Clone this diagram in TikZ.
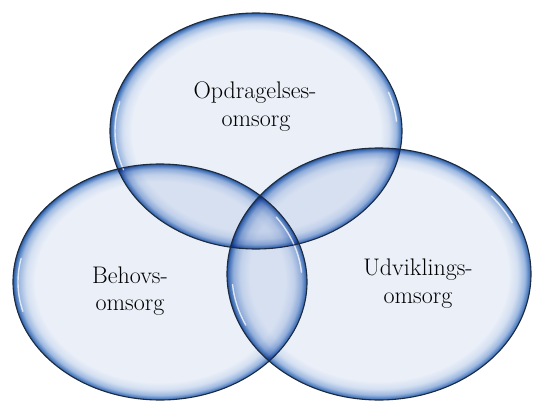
\documentclass[tikz,border=0pt]{standalone}
\usetikzlibrary{calc}
\definecolor{vlight}{HTML}{EAEFF8}
\definecolor{vsoft}{HTML}{D3DFF1}
\definecolor{vmid}{HTML}{9DB8E0}
\definecolor{vblue}{HTML}{4677BC}
\definecolor{vdark}{HTML}{2A5596}
\definecolor{vline}{HTML}{1C2B40}
\pgfdeclareradialshading{venn}{\pgfpoint{0bp}{0bp}}{%
  color(0bp)=(vlight); color(21.3bp)=(vlight); color(22.8bp)=(vsoft);
  color(24bp)=(vmid); color(24.75bp)=(vblue); color(25bp)=(vdark); color(50bp)=(vdark)}
\tikzset{
  bubble/.style={shading=venn},
  rim/.style={draw=vline, line width=1.1pt},
  gloss/.style={draw=white, line width=1.4pt, line cap=round, opacity=0.75},
  lbl/.style={font=\fontsize{24}{28}\selectfont, text=black, inner sep=0pt, anchor=base}
}
\begin{document}
\begin{tikzpicture}[x=1pt,y=-1pt]
\useasboundingbox (0,0) rectangle (533,401);
% fills
\begin{scope}[blend mode=multiply]
  \path[bubble] (256,131) ellipse [x radius=146, y radius=118];
  \path[bubble] (160,282) ellipse [x radius=147, y radius=118];
  \path[bubble] (379,274) ellipse [x radius=152, y radius=126];
\end{scope}
% gloss highlights
\draw[gloss] (256,131) ++(160:141 and 113) arc [start angle=160, end angle=195, x radius=141, y radius=113];
\draw[gloss] (256,131) ++(-20:141 and 113) arc [start angle=-20, end angle=-5, x radius=141, y radius=113];
\draw[gloss] (160,282) ++(165:142 and 113) arc [start angle=165, end angle=192, x radius=142, y radius=113];
\draw[gloss] (160,282) ++(-35:142 and 113) arc [start angle=-35, end angle=-5, x radius=142, y radius=113];
\draw[gloss] (379,274) ++(155:147 and 121) arc [start angle=155, end angle=175, x radius=147, y radius=121];
\draw[gloss] (379,274) ++(-40:147 and 121) arc [start angle=-40, end angle=-25, x radius=147, y radius=121];
% outlines
\draw[rim] (256,131) ellipse [x radius=146, y radius=118];
\draw[rim] (160,282) ellipse [x radius=147, y radius=118];
\draw[rim] (379,274) ellipse [x radius=152, y radius=126];
% labels
\node[lbl] (opA) at (255,99) {Opdragelses-};
\node[lbl] (opB) at (256,127) {omsorg};
\node[lbl] (beA) at (130,283) {Behovs-};
\node[lbl] (beB) at (130,310) {omsorg};
\node[lbl] (udA) at (418,275) {Udviklings-};
\node[lbl] (udB) at (418,303) {omsorg};
\end{tikzpicture}
\end{document}
